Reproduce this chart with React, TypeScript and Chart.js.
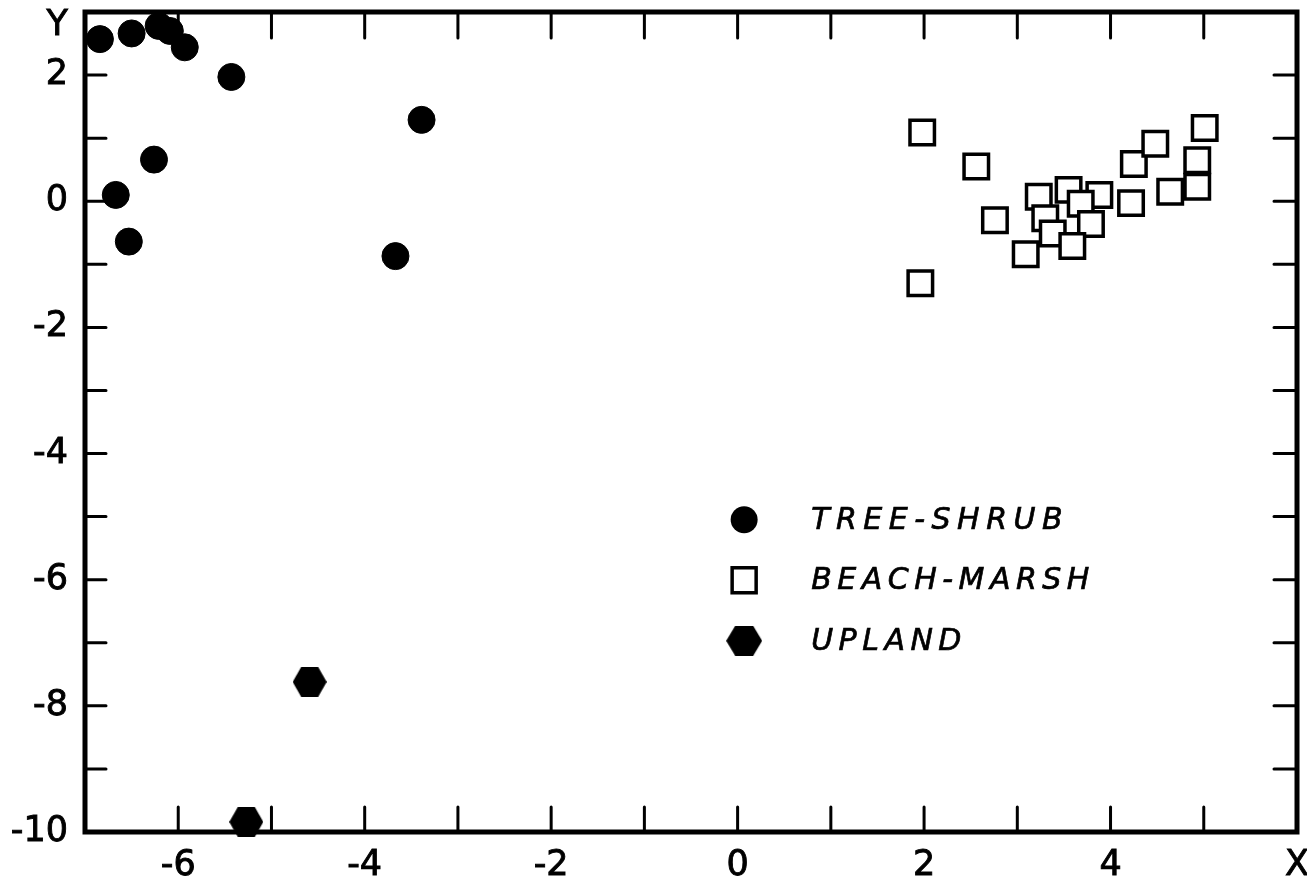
import React, { useEffect, useRef } from 'react';
import { Chart, registerables } from 'chart.js';

Chart.register(...registerables);

// ---- data ----
const seriesNames = ['TREE-SHRUB', 'BEACH-MARSH', 'UPLAND'];

const treeShrubX = [-6.84, -6.50, -6.21, -6.09, -5.93, -5.43, -3.39, -6.26, -6.67, -6.53, -3.67];
const treeShrubY = [2.57, 2.66, 2.78, 2.70, 2.44, 1.97, 1.29, 0.66, 0.10, -0.64, -0.87];

const beachMarshX = [1.98, 2.56, 1.96, 2.76, 3.23, 3.55, 3.88, 3.30, 3.68, 3.79, 3.38, 3.59, 3.09, 4.22, 4.25, 4.48, 4.64, 4.93, 4.93, 5.01];
const beachMarshY = [1.09, 0.55, -1.30, -0.30, 0.07, 0.18, 0.10, -0.27, -0.04, -0.36, -0.51, -0.71, -0.84, -0.03, 0.59, 0.91, 0.15, 0.65, 0.23, 1.16];

const uplandX = [-4.59, -5.27];
const uplandY = [-7.62, -9.84];

const xLabelValues = [-6, -4, -2, 0, 2, 4];
const yLabelValues = [-10, -8, -6, -4, -2, 0, 2];
const xTickMarks = [-6, -5, -4, -3, -2, -1, 0, 1, 2, 3, 4, 5];
const yTickMarks = [-9, -8, -7, -6, -5, -4, -3, -2, -1, 0, 1, 2];
const xAxisName = 'X';
const yAxisName = 'Y';
const xMin = -7;
const xMax = 6;
const yMin = -10;
const yMax = 3;

// ---- styling helpers ----
const TICK_FONT = { family: '"DejaVu Sans", sans-serif', size: 35, lineHeight: 1 };

function makeHexagon(w: number, h: number): HTMLCanvasElement {
  const c = document.createElement('canvas');
  c.width = w;
  c.height = h;
  const g = c.getContext('2d')!;
  g.beginPath();
  g.moveTo(0, h / 2);
  g.lineTo(w * 0.25, 0);
  g.lineTo(w * 0.75, 0);
  g.lineTo(w, h / 2);
  g.lineTo(w * 0.75, h);
  g.lineTo(w * 0.25, h);
  g.closePath();
  g.fillStyle = '#000';
  g.fill();
  return c;
}

function toPoints(xs: number[], ys: number[]) {
  return xs.map((x, i) => ({ x, y: ys[i] }));
}

const framePlugin = {
  id: 'frameAndTicks',
  beforeDatasetsDraw(chart: any) {
    const { ctx, chartArea } = chart;
    const xs = chart.scales.x;
    const ys = chart.scales.y;
    const { left, right, top, bottom } = chartArea;
    ctx.save();
    ctx.strokeStyle = '#000';
    ctx.lineCap = 'round';
    ctx.lineWidth = 3;
    ctx.beginPath();
    xTickMarks.forEach((v) => {
      const px = xs.getPixelForValue(v);
      ctx.moveTo(px, bottom);
      ctx.lineTo(px, bottom - 25);
      ctx.moveTo(px, top);
      ctx.lineTo(px, top + 26);
    });
    yTickMarks.forEach((v) => {
      const py = ys.getPixelForValue(v);
      ctx.moveTo(left, py);
      ctx.lineTo(left + 21, py);
      ctx.moveTo(right, py);
      ctx.lineTo(right - 23, py);
    });
    ctx.stroke();
    ctx.lineCap = 'square';
    ctx.lineWidth = 5;
    ctx.strokeRect(left, top, right - left, bottom - top);
    // axis name for Y
    ctx.fillStyle = '#000';
    ctx.font = `${TICK_FONT.size}px ${TICK_FONT.family}`;
    ctx.textAlign = 'right';
    ctx.textBaseline = 'middle';
    ctx.lineWidth = 0.9;
    const ty = ys.getPixelForValue(yMax) + 14;
    ctx.fillText(yAxisName, left - 17, ty);
    ctx.strokeText(yAxisName, left - 17, ty);
    ctx.restore();
  },
};

const legendPlugin = {
  id: 'insideLegend',
  afterDraw(chart: any) {
    const { ctx } = chart;
    const xs = chart.scales.x;
    const ys = chart.scales.y;
    const mx = xs.getPixelForValue(0.07);
    const y0 = ys.getPixelForValue(-5.05);
    const step = 60.5;
    ctx.save();
    chart.data.datasets.forEach((ds: any, i: number) => {
      const y = y0 + i * step;
      ctx.fillStyle = '#000';
      ctx.strokeStyle = '#000';
      if (ds.pointStyle === 'circle') {
        ctx.beginPath();
        ctx.arc(mx, y, 13.5, 0, Math.PI * 2);
        ctx.fill();
      } else if (ds.pointStyle === 'rect') {
        ctx.fillStyle = '#fff';
        ctx.lineWidth = 3.5;
        ctx.fillRect(mx - 12, y - 12.5, 24, 25);
        ctx.strokeRect(mx - 12, y - 12.5, 24, 25);
      } else if (ds.legendImage) {
        const im = ds.legendImage as HTMLCanvasElement;
        ctx.drawImage(im, mx - im.width / 2, y - im.height / 2);
      }
      ctx.fillStyle = '#000';
      ctx.font = 'italic 30px "DejaVu Sans", sans-serif';
      (ctx as any).letterSpacing = i === 0 ? '6.5px' : '5.5px';
      ctx.textAlign = 'left';
      ctx.textBaseline = 'middle';
      ctx.lineWidth = 0.7;
      ctx.fillText(ds.label, mx + 67, y + 1);
      ctx.strokeText(ds.label, mx + 67, y + 1);
      (ctx as any).letterSpacing = '0px';
    });
    ctx.restore();
  },
};

export default function App() {
  const canvasRef = useRef<HTMLCanvasElement | null>(null);

  useEffect(() => {
    if (!canvasRef.current) return;
    const hexPoint = makeHexagon(34, 30);
    const hexLegend = makeHexagon(36, 30);

    const chart = new Chart(canvasRef.current, {
      type: 'scatter',
      data: {
        datasets: [
          {
            label: seriesNames[0],
            data: toPoints(treeShrubX, treeShrubY),
            pointStyle: 'circle',
            pointRadius: 13.5,
            pointBackgroundColor: '#000',
            pointBorderColor: '#000',
            pointBorderWidth: 1,
            clip: false,
          } as any,
          {
            label: seriesNames[1],
            data: toPoints(beachMarshX, beachMarshY),
            pointStyle: 'rect',
            pointRadius: 17.3,
            pointBackgroundColor: '#fff',
            pointBorderColor: '#000',
            pointBorderWidth: 3.5,
            clip: false,
          } as any,
          {
            label: seriesNames[2],
            data: toPoints(uplandX, uplandY),
            pointStyle: hexPoint,
            legendImage: hexLegend,
            pointRadius: 15,
            pointBackgroundColor: '#000',
            pointBorderColor: '#000',
            clip: false,
          } as any,
        ],
      },
      options: {
        animation: false,
        responsive: true,
        maintainAspectRatio: false,
        layout: { autoPadding: false, padding: { top: 12, right: 10, left: 0, bottom: 0 } },
        plugins: {
          legend: { display: false },
          tooltip: { enabled: false },
          title: { display: false },
        },
        scales: {
          x: {
            type: 'linear',
            min: xMin,
            max: xMax,
            afterBuildTicks: (s: any) => {
              s.ticks = [...xLabelValues, xMax].map((value) => ({ value }));
            },
            afterFit: (s: any) => {
              s.height = 52;
              s.paddingLeft = 0;
              s.paddingRight = 0;
            },
            ticks: {
              autoSkip: false,
              maxRotation: 0,
              minRotation: 0,
              padding: 16,
              color: '#000',
              font: TICK_FONT,
              textStrokeColor: '#000',
              textStrokeWidth: 0.9,
              callback: (v: any) => (v === xMax ? xAxisName : String(v)),
            },
            grid: { display: false, drawTicks: false },
            border: { display: false },
          },
          y: {
            type: 'linear',
            min: yMin,
            max: yMax,
            afterBuildTicks: (s: any) => {
              s.ticks = yLabelValues.map((value) => ({ value }));
            },
            afterFit: (s: any) => {
              s.width = 85;
              s.paddingTop = 0;
              s.paddingBottom = 0;
            },
            ticks: {
              autoSkip: false,
              padding: 17,
              color: '#000',
              font: TICK_FONT,
              textStrokeColor: '#000',
              textStrokeWidth: 0.9,
              callback: (v: any) => String(v),
            },
            grid: { display: false, drawTicks: false },
            border: { display: false },
          },
        },
      },
      plugins: [framePlugin, legendPlugin],
    });

    return () => chart.destroy();
  }, []);

  return (
    <div style={{ position: 'absolute', left: 0, top: 0, width: 1307, height: 884 }}>
      <canvas ref={canvasRef} />
    </div>
  );
}
